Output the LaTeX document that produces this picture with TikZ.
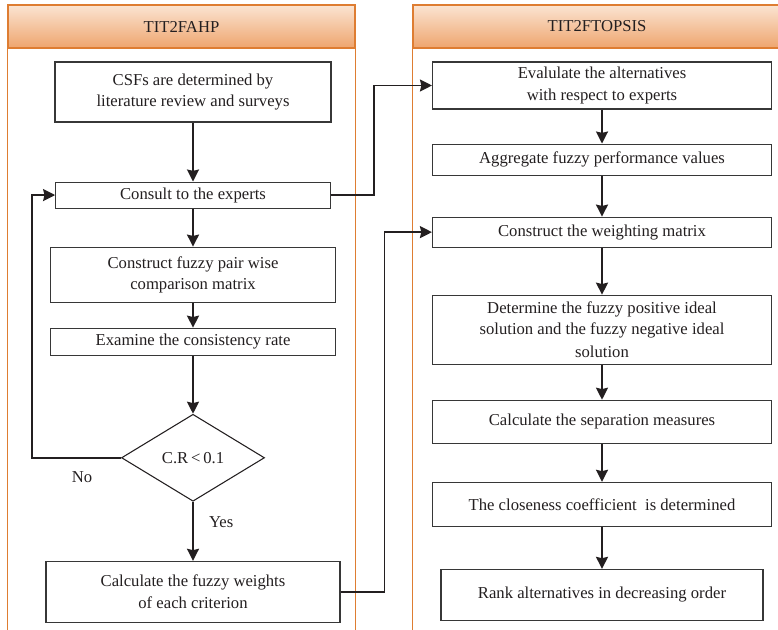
\documentclass[tikz,border=0pt]{standalone}
\usepackage{fontspec}
\setmainfont{Liberation Serif}
\usepackage{tikz}
\usetikzlibrary{shapes.geometric, arrows.meta, positioning, calc}
\definecolor{mydark}{RGB}{35,31,32}
\definecolor{boxline}{RGB}{55,55,55}
\definecolor{panelline}{RGB}{222,125,50}
\definecolor{hdrtop}{RGB}{251,228,210}
\definecolor{hdrbot}{RGB}{238,165,110}
\tikzset{
  stepbox/.style={rectangle, draw=boxline, fill=white, align=center,
    line width=0.8pt, inner sep=2pt, text=mydark,
    font=\fontsize{12.5}{16}\selectfont},
  decision/.style={diamond, draw=mydark, fill=white, line width=0.8pt,
    inner sep=0pt, text=mydark, font=\fontsize{12.5}{16}\selectfont},
  header/.style={rectangle, draw=panelline, line width=0.9pt,
    top color=hdrtop, bottom color=hdrbot, text=mydark,
    font=\fontsize{12.5}{16}\selectfont},
  panel/.style={draw=panelline, line width=0.9pt},
  lbl/.style={text=mydark, font=\fontsize{12.5}{16}\selectfont},
  arrow/.style={-{Stealth[length=9pt, width=9pt, inset=1pt]}, line width=1.4pt, color=mydark},
  line/.style={line width=1.4pt, color=mydark}
}
\begin{document}
\begin{tikzpicture}[x=0.75pt, y=0.75pt]
  \useasboundingbox (0,0) rectangle (778,-630);
  \clip (0,0) rectangle (778,-630);

  % Panels
  \node[header, minimum width=260.25pt, minimum height=32.25pt] (ahphdr) at (181.5,-26.5) {TIT2FAHP};
  \node[header, minimum width=276pt, minimum height=32.25pt] (topsishdr) at (597,-26.5) {TIT2FTOPSIS};
  \draw[panel] (ahphdr.south west) -- ++(0,-600);
  \draw[panel] (ahphdr.south east) -- ++(0,-600);
  \draw[panel] (topsishdr.south west) -- ++(0,-600);
  \draw[panel] (topsishdr.south east) -- ++(0,-600);

  % TIT2FAHP steps
  \node[stepbox, minimum width=207pt, minimum height=45pt] (csf) at (193,-92) {CSFs are determined by\\literature review and surveys};
  \node[stepbox, minimum width=206pt, minimum height=19.5pt, below=44.25pt of csf] (consult) {Consult to the experts};
  \node[stepbox, minimum width=214pt, minimum height=41.25pt, below=28.5pt of consult] (pairwise) {Construct fuzzy pair wise\\comparison matrix};
  \node[stepbox, minimum width=214pt, minimum height=20.25pt, below=18.75pt of pairwise] (examine) {Examine the consistency rate};
  \node[decision, minimum width=107.25pt, minimum height=65.25pt, aspect=1.64, below=43.5pt of examine] (cr) {C.R\,<\,0.1};
  \node[stepbox, minimum width=220.5pt, minimum height=45.75pt, below=44.25pt of cr] (weights) {Calculate the fuzzy weights\\of each criterion};

  % TIT2FTOPSIS steps
  \node[stepbox, minimum width=254.25pt, minimum height=35.25pt] (evaluate) at (602,-85.5) {Evalulate the alternatives\\with respect to experts};
  \node[stepbox, minimum width=254.25pt, minimum height=23.25pt, below=25.5pt of evaluate] (aggregate) {Aggregate fuzzy performance values};
  \node[stepbox, minimum width=254.25pt, minimum height=22.5pt, below=30.75pt of aggregate] (weighting) {Construct the weighting matrix};
  \node[stepbox, minimum width=254.25pt, minimum height=51.75pt, below=35.25pt of weighting] (ideal) {Determine the fuzzy positive ideal\\solution and the fuzzy negative ideal\\[1pt]solution};
  \node[stepbox, minimum width=254.25pt, minimum height=32.25pt, below=26.25pt of ideal] (separation) {Calculate the separation measures};
  \node[stepbox, minimum width=254.25pt, minimum height=33pt, below=28.5pt of separation] (closeness) {The closeness coefficient~ is determined};
  \node[stepbox, minimum width=241.5pt, minimum height=38.25pt, below=31.5pt of closeness] (rank) {Rank alternatives in decreasing order};

  % Arrows
  \draw[arrow] (csf) -- (consult);
  \draw[arrow] (consult) -- (pairwise);
  \draw[arrow] (pairwise) -- (examine);
  \draw[arrow] (examine) -- (cr);
  \draw[arrow] (cr) -- node[lbl, right=8pt, pos=0.34] {Yes} (weights);
  \draw[arrow] (cr.west) -- ++(-89,0) |- (consult.west);
  \node[lbl] (nolbl) at ($(cr.west)+(-39,-19)$) {No};
  \draw[arrow] (consult.east) -- ++(43,0) |- (evaluate.west);
  \draw[arrow] (weights.east) -- ++(44,0) |- (weighting.west);
  \draw[arrow] (evaluate) -- (aggregate);
  \draw[arrow] (aggregate) -- (weighting);
  \draw[arrow] (weighting) -- (ideal);
  \draw[arrow] (ideal) -- (separation);
  \draw[arrow] (separation) -- (closeness);
  \draw[arrow] (closeness) -- (rank);
\end{tikzpicture}
\end{document}
